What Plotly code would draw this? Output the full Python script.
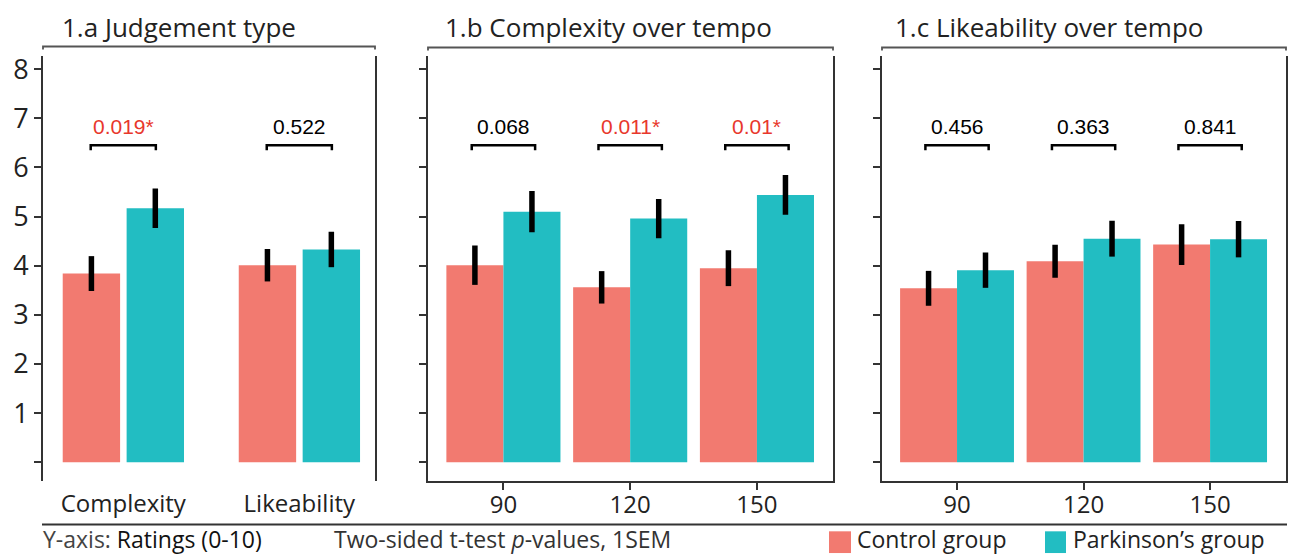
import plotly.graph_objects as go

W, H = 1291, 556

# ---------------- data ----------------
judgement_cats = ["Complexity", "Likeability"]
judgement_control = [3.84, 4.01]
judgement_control_sem = [0.355, 0.33]
judgement_park = [5.17, 4.33]
judgement_park_sem = [0.40, 0.36]
judgement_p = ["0.019*", "0.522"]

tempo_cats = ["90", "120", "150"]
complexity_control = [4.01, 3.56, 3.95]
complexity_control_sem = [0.40, 0.33, 0.365]
complexity_park = [5.10, 4.96, 5.44]
complexity_park_sem = [0.42, 0.40, 0.405]
complexity_p = ["0.068", "0.011*", "0.01*"]

likeability_control = [3.54, 4.09, 4.43]
likeability_control_sem = [0.355, 0.335, 0.415]
likeability_park = [3.91, 4.55, 4.54]
likeability_park_sem = [0.36, 0.365, 0.37]
likeability_p = ["0.456", "0.363", "0.841"]

y_ticks = [0, 1, 2, 3, 4, 5, 6, 7, 8]
y_ticktext = ["", "1", "2", "3", "4", "5", "6", "7", "8"]

panel_titles = ["1.a Judgement type", "1.b Complexity over tempo", "1.c Likeability over tempo"]
group_names = ["Control group", "Parkinson\u2019s group"]

# ---------------- styles ----------------
RED = "#F27A70"
TEAL = "#22BDC2"
SIG = "#E8372C"
AX = "#333333"
TXT = "#222222"
FONT = "Open Sans"


def px(x):
    return x / W


def py(y):
    return 1 - y / H


panels = [
    dict(cats=judgement_cats, c=judgement_control, cs=judgement_control_sem,
         p=judgement_park, ps=judgement_park_sem, pv=judgement_p,
         x0=43, x1=375, xr=[-0.456, 1.43], off=(-0.344, 0.019), w=0.326,
         hw=0.185, bottom=False, top_y=40),
    dict(cats=tempo_cats, c=complexity_control, cs=complexity_control_sem,
         p=complexity_park, ps=complexity_park_sem, pv=complexity_p,
         x0=428, x1=833, xr=[-0.595, 2.6], off=(-0.45, 0.0), w=0.45,
         hw=0.25, bottom=True, top_y=41),
    dict(cats=tempo_cats, c=likeability_control, cs=likeability_control_sem,
         p=likeability_park, ps=likeability_park_sem, pv=likeability_p,
         x0=882, x1=1286, xr=[-0.593, 2.6], off=(-0.45, 0.0), w=0.45,
         hw=0.25, bottom=True, top_y=41),
]

fig = go.Figure()
shapes = []
annotations = []
layout = {}

for k, pnl in enumerate(panels):
    sfx = "" if k == 0 else str(k + 1)
    xa, ya = "x" + sfx, "y" + sfx
    idx = list(range(len(pnl["cats"])))
    for vals, sems, off, col in ((pnl["c"], pnl["cs"], pnl["off"][0], RED),
                                 (pnl["p"], pnl["ps"], pnl["off"][1], TEAL)):
        fig.add_trace(go.Bar(
            x=idx, y=vals, width=pnl["w"], offset=off,
            marker=dict(color=col, line=dict(width=0)),
            error_y=dict(type="data", array=sems, color="black", thickness=5.5, width=0),
            xaxis=xa, yaxis=ya, showlegend=False, hoverinfo="skip"))

    layout["xaxis" + sfx] = dict(
        domain=[px(pnl["x0"]), px(pnl["x1"])], anchor=ya, range=pnl["xr"],
        tickvals=idx, ticktext=pnl["cats"], showgrid=False, zeroline=False,
        showline=pnl["bottom"], linecolor=AX, linewidth=2,
        ticks="outside", ticklen=7, tickwidth=2,
        tickcolor=AX if pnl["bottom"] else "rgba(0,0,0,0)",
        ticklabelstandoff=-6,
        tickfont=dict(family=FONT, size=24, color=TXT), fixedrange=True)
    layout["yaxis" + sfx] = dict(
        domain=[py(480), py(50)], anchor=xa, range=[-0.38, 8.26],
        tickvals=y_ticks, ticktext=y_ticktext, showticklabels=(k == 0),
        ticks="outside", ticklen=7, tickwidth=2, tickcolor=AX,
        showline=True, mirror=True, linecolor=AX, linewidth=2,
        showgrid=False, zeroline=False,
        tickfont=dict(family=FONT, size=27, color=TXT), fixedrange=True)

    # brackets and p-values
    for i, lab in enumerate(pnl["pv"]):
        a, b = i - pnl["hw"], i + pnl["hw"]
        shapes.append(dict(type="path", xref=xa, yref=ya,
                           path=f"M {a},6.35 L {a},6.45 L {b},6.45 L {b},6.35",
                           line=dict(color="black", width=2.5)))
        annotations.append(dict(x=i, y=6.83, xref=xa, yref=ya, text=lab, showarrow=False,
                                font=dict(family="Liberation Sans, Arial", size=21,
                                          color=SIG if lab.endswith("*") else "black")))

    # strip line above panel
    t = pnl["top_y"]
    shapes.append(dict(type="path", xref="paper", yref="paper",
                       path=f"M {px(pnl['x0'])},{py(t + 3)} L {px(pnl['x0'])},{py(t)} "
                            f"L {px(pnl['x1'])},{py(t)} L {px(pnl['x1'])},{py(t + 3)}",
                       line=dict(color="#555555", width=1.8)))

# panel titles
for tx, title in zip([60, 443, 893], panel_titles):
    annotations.append(dict(x=px(tx), y=py(20), xref="paper", yref="paper", text=title,
                            xanchor="left", yanchor="middle", showarrow=False,
                            font=dict(family=FONT, size=26, color=TXT)))

# bottom rule
shapes.append(dict(type="line", xref="paper", yref="paper", x0=px(42), x1=px(1287),
                   y0=py(524), y1=py(524), line=dict(color=AX, width=2)))

annotations.append(dict(x=px(41), y=py(539), xref="paper", yref="paper",
                        text="<span style='color:#444'>Y-axis:</span> Ratings (0-10)",
                        xanchor="left", yanchor="middle", showarrow=False,
                        font=dict(family=FONT, size=23, color="#111111")))
annotations.append(dict(x=px(332), y=py(539), xref="paper", yref="paper",
                        text="Two-sided t-test <i>p</i>-values, 1SEM",
                        xanchor="left", yanchor="middle", showarrow=False,
                        font=dict(family=FONT, size=23, color="#333333")))

# legend keys
for (sx0, sx1, tx), name, col in zip([(829, 851, 855), (1045, 1066, 1071)], group_names, [RED, TEAL]):
    shapes.append(dict(type="rect", xref="paper", yref="paper", x0=px(sx0), x1=px(sx1),
                       y0=py(553), y1=py(531), fillcolor=col, line=dict(width=0)))
    annotations.append(dict(x=px(tx), y=py(539), xref="paper", yref="paper", text=name,
                            xanchor="left", yanchor="middle", showarrow=False,
                            font=dict(family=FONT, size=23, color="#222222")))

fig.update_layout(
    width=W, height=H, margin=dict(l=0, r=0, t=0, b=0),
    paper_bgcolor="white", plot_bgcolor="white",
    barmode="overlay", showlegend=False,
    shapes=shapes, annotations=annotations, **layout)

fig.write_html("out.html", config={"displayModeBar": False},
               post_script="document.body.style.margin='0';document.body.style.overflow='hidden';")
